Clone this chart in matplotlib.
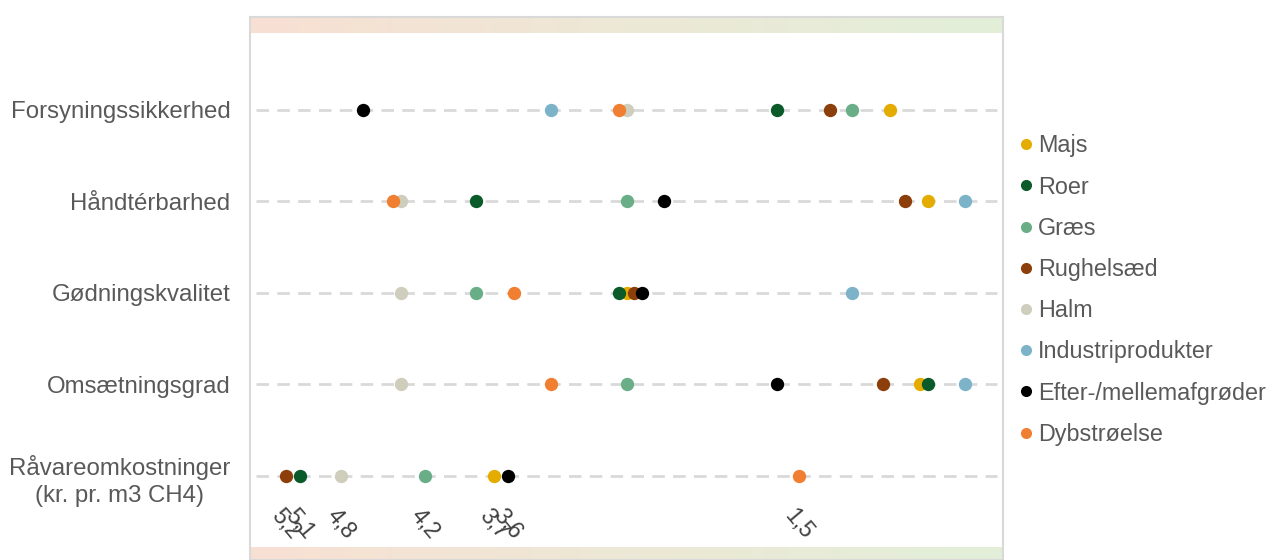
import matplotlib.pyplot as plt
import numpy as np
from matplotlib.colors import LinearSegmentedColormap
from matplotlib.lines import Line2D

plt.rcParams['font.family'] = ['Liberation Sans', 'DejaVu Sans']

# Criteria rows, top to bottom (score scale 0-10, the cost row uses kr. per m3 CH4)
criteria = ['Forsyningssikkerhed', 'Håndtérbarhed', 'Gødningskvalitet',
            'Omsætningsgrad', 'Råvareomkostninger\n(kr. pr. m3 CH4)']

feedstocks = ['Majs', 'Roer', 'Græs', 'Rughelsæd', 'Halm',
              'Industriprodukter', 'Efter-/mellemafgrøder', 'Dybstrøelse']
colors = ['#e5ac00', '#0b5a2a', '#6aae88', '#8c3f0a', '#cfcdbb',
          '#7db3c8', '#000000', '#f07f32']

# scores per feedstock for the first four criteria
forsyning = [8.5, 7.0, 8.0, 7.7, 5.0, 4.0, 1.5, 4.9]
haandtering = [9.0, 3.0, 5.0, 8.7, 2.0, 9.5, 5.5, 1.9]
goedning = [5.0, 4.9, 3.0, 5.1, 2.0, 8.0, 5.2, 3.5]
omsaetning = [8.9, 9.0, 5.0, 8.4, 2.0, 9.5, 7.0, 4.0]
scores = [forsyning, haandtering, goedning, omsaetning]

# raw material cost, kr. pr. m3 CH4 (no value for Industriprodukter)
cost = [3.7, 5.1, 4.2, 5.2, 4.8, None, 3.6, 1.5]
cost_labels = ['3,7', '5,1', '4,2', '5,2', '4,8', None, '3,6', '1,5']

txt_color = '#595959'
grid_color = '#d9d9d9'
fs = 17.3

fig = plt.figure(figsize=(12.74, 5.6), dpi=100)
ax = fig.add_axes([250 / 1274, 0, 753 / 1274, 1 - 17 / 560])
ax.set_xlim(0, 10)
ax.set_ylim(4.918, -1.016)

# cost row on its own reversed scale: cheapest to the right
axc = ax.twiny()
axc.set_xlim(5.46, 0.025)
axc.set_ylim(ax.get_ylim())
axc.set_xticks([])
axc.axis('off')

for s in ax.spines.values():
    s.set_color(grid_color)
    s.set_linewidth(1.5)

# dashed guide line for each criterion
for i in range(len(criteria)):
    ax.plot([0.08, 9.92], [i, i], color=grid_color, lw=2,
            dashes=(4.5, 3), zorder=1)

for j, name in enumerate(feedstocks):
    for i, row in enumerate(scores):
        ax.plot(row[j], i, 'o', ms=9.6, color=colors[j], mec='none', zorder=3)
    if cost[j] is not None:
        axc.plot(cost[j], 4, 'o', ms=9.6, color=colors[j], mec='none', zorder=3)
        axc.text(cost[j], 4.52, cost_labels[j], rotation=-50, ha='center',
                 va='center', fontsize=16.5, color='#404040',
                 rotation_mode='anchor')

ax.set_yticks(range(len(criteria)))
ax.set_yticklabels(criteria, fontsize=fs, color=txt_color)
for lbl in ax.get_yticklabels():
    lbl.set_multialignment('center')
    lbl.set_linespacing(1.3)
ax.tick_params(axis='y', length=0, pad=14)
ax.set_xticks([])

# soft orange-to-green bands along top and bottom of the frame
band = LinearSegmentedColormap.from_list('band', ['#f8e0d3', '#ede8d6', '#e2efd9'])
grad = np.linspace(0, 1, 256).reshape(1, -1)
ax.imshow(grad, cmap=band, aspect='auto', extent=[0, 10, -1.016 + 16 / 91.5, -1.016],
          zorder=0)
ax.imshow(grad, cmap=band, aspect='auto', extent=[0, 10, 4.918, 4.918 - 12 / 91.5],
          zorder=0)
ax.set_xlim(0, 10)
ax.set_ylim(4.918, -1.016)

handles = [Line2D([], [], marker='o', ls='none', ms=8, color=c, mec='none')
           for c in colors]
fig.legend(handles, feedstocks, loc='upper left',
           bbox_to_anchor=(1008 / 1274, 1 - 125 / 560), frameon=False,
           fontsize=16.8, labelcolor=txt_color, handlelength=0.7,
           handletextpad=0.2, labelspacing=0.78, borderaxespad=0)

fig.savefig('out.png', dpi=100)
